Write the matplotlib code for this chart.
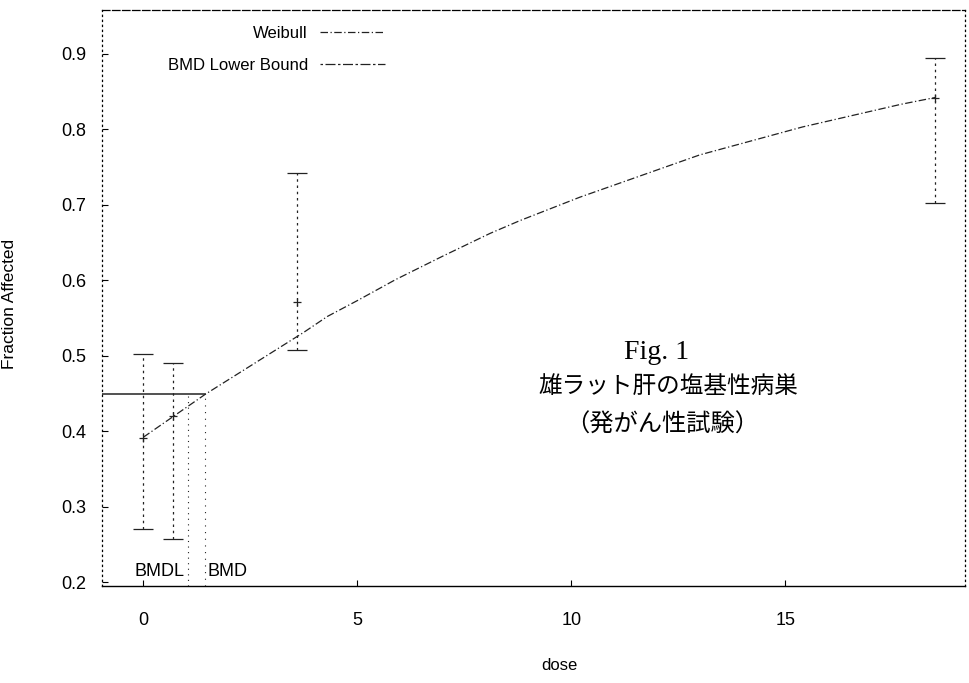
import numpy as np
from matplotlib import pyplot as plt

# dose groups with observed fraction and confidence limits
dose = [0.0, 0.70, 3.6, 18.5]
frac = [0.391, 0.420, 0.571, 0.842]
lower = [0.270, 0.257, 0.507, 0.702]
upper = [0.502, 0.490, 0.742, 0.895]

# Weibull fit
fit_dose = [0.0, 1.45, 3.75, 4.3, 5.0, 5.9, 7.0, 8.1, 8.8, 10.2, 13.0, 15.4, 17.7, 18.5]
fit_frac = [0.392, 0.449, 0.531, 0.552, 0.573, 0.601, 0.632, 0.662, 0.679, 0.710,
            0.766, 0.803, 0.833, 0.842]

bmr_level = 0.449
bmdl = 1.05
bmd = 1.45

plt.rcParams['font.family'] = ['Liberation Sans', 'DejaVu Sans']

fig = plt.figure(figsize=(9.69, 6.83), dpi=100)
ax = fig.add_axes([0.105, 0.142, 0.891, 0.843])

x_lo, x_hi = -0.97, 19.2
y_lo, y_hi = 0.195, 0.9576
ax.set_xlim(x_lo, x_hi)
ax.set_ylim(y_lo, y_hi)

# fitted curve
ax.plot(fit_dose, fit_frac, color='#222222', linewidth=0.9,
        linestyle=(0, (6, 2, 1, 2)), label='Weibull')
# dummy line for the second legend entry
ax.plot([], [], color='#222222', linewidth=0.9, linestyle=(0, (2, 2, 8, 2)),
        label='BMD Lower Bound')

# data with error bars
yerr = [np.array(frac) - np.array(lower), np.array(upper) - np.array(frac)]
eb = ax.errorbar(dose, frac, yerr=yerr, fmt='+', color='#222222', markersize=6,
                 elinewidth=0.9, capsize=7, capthick=1.1, markeredgewidth=0.9)
eb[2][0].set_linestyle((0, (2, 3)))

# BMR line and BMD / BMDL markers
ax.plot([x_lo, bmd], [bmr_level, bmr_level], color='#222222', linewidth=1.1)
ax.plot([bmdl, bmdl], [y_lo, bmr_level], color='#222222', linewidth=0.8,
        linestyle=(0, (1, 4)))
ax.plot([bmd, bmd], [y_lo, bmr_level], color='#222222', linewidth=0.8,
        linestyle=(0, (1, 5)))
ax.text(bmdl - 0.08, 0.203, 'BMDL', ha='right', va='bottom', fontsize=13)
ax.text(bmd + 0.05, 0.203, 'BMD', ha='left', va='bottom', fontsize=13)

# frame
for side in ['left', 'right']:
    ax.spines[side].set_linestyle((0, (1, 3)))
    ax.spines[side].set_linewidth(0.9)
ax.spines['top'].set_linestyle((0, (6, 2)))
ax.spines['top'].set_linewidth(0.9)
ax.spines['bottom'].set_linewidth(1.0)

ax.set_xticks([0, 5, 10, 15])
ax.set_yticks([0.2, 0.3, 0.4, 0.5, 0.6, 0.7, 0.8, 0.9])
ax.set_yticklabels(['0.2', '0.3', '0.4', '0.5', '0.6', '0.7', '0.8', '0.9'])
ax.tick_params(axis='both', direction='in', length=4, width=0.8, labelsize=13)
ax.tick_params(axis='x', pad=19)
ax.tick_params(axis='y', pad=11)

ax.set_xlabel('dose', fontsize=12)
ax.xaxis.set_label_coords(0.53, -0.125)
ax.set_ylabel('Fraction Affected', fontsize=12.5)
ax.yaxis.set_label_coords(-0.098, 0.49)

leg = ax.legend(loc='upper right', bbox_to_anchor=(0.345, 0.999), frameon=False,
                markerfirst=False, fontsize=12, handlelength=3.9,
                labelspacing=1.05, handletextpad=0.7)

# annotation
ax.text(0.643, 0.406, 'Fig. 1', transform=ax.transAxes, ha='center', va='center',
        fontsize=20, family=['Liberation Serif'])
ax.text(0.656, 0.347, '雄ラット肝の塩基性病巣', transform=ax.transAxes,
        ha='center', va='center', fontsize=17,
        family=['Noto Sans CJK JP', 'DejaVu Sans'])
ax.text(0.649, 0.28, '（発がん性試験）', transform=ax.transAxes,
        ha='center', va='center', fontsize=17.5,
        family=['Noto Sans CJK JP', 'DejaVu Sans'])

fig.savefig('out.png', dpi=100)
